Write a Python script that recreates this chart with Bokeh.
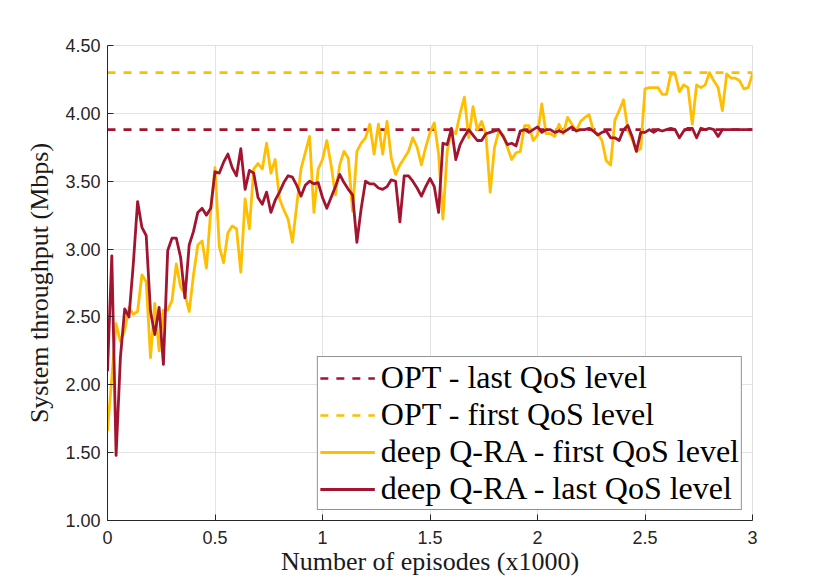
import numpy as np
from bokeh.plotting import figure
from bokeh.models import Range1d, Legend, LegendItem, PrintfTickFormatter, CustomJSTickFormatter, FixedTicker
from bokeh.embed import file_html
from bokeh.resources import INLINE

# ---- data ----
episodes = np.linspace(0.0, 3.0, 151)  # x1000 episodes, step 0.02

opt_last_qos = 3.88
opt_first_qos = 4.30

deep_qra_last = [
    2.10, 2.95, 1.48, 2.20, 2.56, 2.50, 2.89, 3.35, 3.16, 3.10,
    2.54, 2.37, 2.57, 2.15, 2.99, 3.08, 3.08, 2.94, 2.64, 3.03,
    3.13, 3.27, 3.30, 3.25, 3.30, 3.57, 3.56, 3.64, 3.70, 3.60,
    3.54, 3.74, 3.44, 3.58, 3.56, 3.38, 3.33, 3.42, 3.27, 3.36,
    3.42, 3.49, 3.54, 3.53, 3.47, 3.39, 3.47, 3.50, 3.48, 3.49,
    3.38, 3.30, 3.38, 3.46, 3.55, 3.49, 3.44, 3.40, 3.05, 3.30,
    3.50, 3.48, 3.48, 3.45, 3.44, 3.46, 3.51, 3.50, 3.20, 3.54,
    3.54, 3.50, 3.45, 3.39, 3.46, 3.52, 3.46, 3.27, 3.78, 3.77,
    3.89, 3.66, 3.77, 3.83, 3.88, 3.84, 3.80, 3.80, 3.85, 3.86,
    3.87, 3.88, 3.83, 3.77, 3.78, 3.76, 3.87, 3.88, 3.86, 3.88,
    3.90, 3.86, 3.88, 3.88, 3.86, 3.87, 3.86, 3.88, 3.90, 3.87,
    3.88, 3.88, 3.89, 3.87, 3.84, 3.86, 3.87, 3.82, 3.82, 3.80,
    3.88, 3.91, 3.83, 3.72, 3.86, 3.86, 3.88, 3.86, 3.88, 3.87,
    3.88, 3.89, 3.88, 3.82, 3.87, 3.89, 3.89, 3.82, 3.89, 3.88,
    3.89, 3.88, 3.83, 3.88, 3.88, 3.88, 3.88, 3.88, 3.88, 3.88,
    3.88,
]

deep_qra_first = [
    1.66, 2.05, 2.45, 2.32, 2.40, 2.57, 2.52, 2.54, 2.81, 2.76,
    2.20, 2.60, 2.25, 2.55, 2.55, 2.62, 2.89, 2.72, 2.67, 2.54,
    2.81, 3.03, 3.06, 2.86, 3.28, 3.60, 3.02, 2.90, 3.12, 3.17,
    3.15, 2.83, 3.37, 3.15, 3.59, 3.63, 3.59, 3.78, 3.56, 3.66,
    3.37, 3.29, 3.22, 3.05, 3.32, 3.59, 3.71, 3.83, 3.27, 3.59,
    3.66, 3.80, 3.62, 3.40, 3.62, 3.72, 3.67, 3.28, 3.72, 3.78,
    3.82, 3.92, 3.70, 3.92, 3.70, 3.94, 3.67, 3.55, 3.62, 3.67,
    3.72, 3.82, 3.75, 3.62, 3.75, 3.86, 3.93, 3.70, 3.22, 3.72,
    3.88, 3.85, 4.00, 4.12, 3.82, 4.05, 3.88, 3.94, 3.85, 3.42,
    3.75, 3.87, 3.84, 3.75, 3.66, 3.71, 3.72, 3.91, 3.91, 3.80,
    3.84, 4.07, 3.85, 3.85, 3.83, 3.92, 3.85, 3.97, 3.92, 3.87,
    3.94, 3.97, 3.99, 3.87, 3.85, 3.80, 3.65, 3.62, 3.95, 4.02,
    4.10, 3.88, 3.81, 3.72, 3.74, 4.18, 4.19, 4.19, 4.19, 4.14,
    4.14, 4.29, 4.29, 4.16, 4.21, 4.19, 3.92, 4.21, 4.19, 4.21,
    4.30, 4.24, 4.19, 4.02, 4.29, 4.26, 4.26, 4.24, 4.18, 4.19,
    4.29,
]

x_ticks = [0, 0.5, 1, 1.5, 2, 2.5, 3]
y_ticks = [1.0, 1.5, 2.0, 2.5, 3.0, 3.5, 4.0, 4.5]

RED = "#A2142F"
YELLOW = "#FFBF00"
AX = "#262626"

p = figure(frame_width=645, frame_height=475, output_backend="svg", toolbar_location=None,
           x_range=Range1d(0, 3), y_range=Range1d(1, 4.5),
           min_border_left=107, min_border_right=70, min_border_top=45, min_border_bottom=60)
p.background_fill_color = "white"
p.border_fill_color = "white"
p.outline_line_color = "#e0e0e0"

opt_last_y = [opt_last_qos] * len(episodes)
opt_first_y = [opt_first_qos] * len(episodes)

r1 = p.line(episodes, opt_last_y, line_color=RED, line_width=2.7, line_dash="8 8")
r2 = p.line(episodes, opt_first_y, line_color=YELLOW, line_width=2.7, line_dash="8 8")
r3 = p.line(episodes, deep_qra_first, line_color=YELLOW, line_width=2.8, line_join="round")
r4 = p.line(episodes, deep_qra_last, line_color=RED, line_width=2.8, line_join="round")

p.xaxis.ticker = FixedTicker(ticks=x_ticks)
p.yaxis.ticker = FixedTicker(ticks=y_ticks)
p.xaxis.formatter = CustomJSTickFormatter(code="return tick.toString();")
p.yaxis.formatter = PrintfTickFormatter(format="%.2f")

for ax in (p.xaxis, p.yaxis):
    ax.axis_line_color = AX
    ax.axis_line_width = 1
    ax.major_tick_line_color = AX
    ax.major_tick_in = 6
    ax.major_tick_out = 0
    ax.minor_tick_in = 0
    ax.minor_tick_out = 0
    ax.major_label_text_font = "Liberation Sans"
    ax.major_label_text_font_size = "18px"
    ax.major_label_text_color = AX
    ax.axis_label_text_font = "Liberation Serif"
    ax.axis_label_text_font_size = "26px"
    ax.axis_label_text_font_style = "normal"
    ax.axis_label_text_color = "#1a1a1a"

p.xaxis.axis_label = "Number of episodes (x1000)"
p.yaxis.axis_label = "System throughput (Mbps)"
p.xaxis.major_label_standoff = 10
p.xaxis.axis_label_standoff = 0
p.yaxis.major_label_standoff = 7
p.yaxis.axis_label_standoff = 8

p.xgrid.grid_line_color = "#e3e3e3"
p.ygrid.grid_line_color = "#e3e3e3"

legend = Legend(items=[
    LegendItem(label="OPT - last QoS level", renderers=[r1]),
    LegendItem(label="OPT - first QoS level", renderers=[r2]),
    LegendItem(label="deep Q-RA - first QoS level", renderers=[r3]),
    LegendItem(label="deep Q-RA - last QoS level", renderers=[r4]),
], location="bottom_right")
legend.label_text_font = "Liberation Serif"
legend.label_text_font_size = "32px"
legend.label_text_color = "black"
legend.glyph_width = 55
legend.glyph_height = 34
legend.label_height = 34
legend.spacing = 0
legend.padding = 2
legend.margin = 10
legend.label_standoff = 6
legend.border_line_color = AX
legend.border_line_width = 1
legend.background_fill_color = "white"
legend.background_fill_alpha = 1.0
p.add_layout(legend)

open("out.html", "w").write(file_html(p, INLINE))
